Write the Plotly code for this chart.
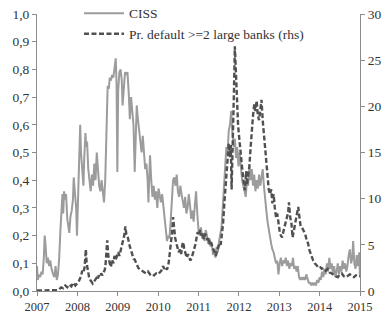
import plotly.graph_objects as go

ciss_x = [2007.00,2007.02,2007.05,2007.08,2007.11,2007.14,2007.17,2007.19,2007.21,2007.24,2007.27,2007.30,2007.33,2007.36,2007.40,2007.43,2007.46,2007.49,2007.52,2007.55,2007.58,2007.61,2007.63,2007.65,2007.67,2007.70,2007.72,2007.75,2007.78,2007.80,2007.83,2007.86,2007.89,2007.91,2007.93,2007.95,2007.97,2007.99,
2008.02,2008.05,2008.07,2008.09,2008.12,2008.15,2008.17,2008.20,2008.22,2008.24,2008.27,2008.30,2008.33,2008.36,2008.39,2008.42,2008.45,2008.48,2008.51,2008.54,2008.57,2008.60,2008.63,2008.66,2008.69,2008.71,2008.73,2008.75,2008.78,2008.80,2008.83,2008.86,2008.89,2008.92,2008.95,2008.97,2008.99,
2009.01,2009.04,2009.07,2009.10,2009.12,2009.15,2009.18,2009.21,2009.24,2009.27,2009.30,2009.33,2009.36,2009.39,2009.42,2009.45,2009.47,2009.50,2009.53,2009.56,2009.59,2009.62,2009.65,2009.68,2009.71,2009.74,2009.76,2009.78,2009.80,2009.83,2009.86,2009.89,2009.92,2009.95,2009.98,
2010.01,2010.04,2010.07,2010.10,2010.13,2010.16,2010.19,2010.22,2010.25,2010.28,2010.31,2010.34,2010.37,2010.40,2010.43,2010.46,2010.49,2010.52,2010.55,2010.58,2010.61,2010.64,2010.67,2010.70,2010.73,2010.76,2010.79,2010.82,2010.85,2010.88,2010.91,2010.94,2010.97,
2011.00,2011.03,2011.06,2011.09,2011.12,2011.15,2011.18,2011.21,2011.24,2011.27,2011.30,2011.33,2011.36,2011.39,2011.42,2011.45,2011.48,2011.51,2011.54,2011.57,2011.60,2011.63,2011.66,2011.69,2011.72,2011.75,2011.78,2011.81,2011.84,2011.87,2011.90,2011.93,2011.96,2011.99,
2012.02,2012.05,2012.08,2012.11,2012.14,2012.17,2012.20,2012.23,2012.26,2012.29,2012.32,2012.35,2012.38,2012.41,2012.44,2012.47,2012.50,2012.53,2012.56,2012.59,2012.62,2012.65,2012.68,2012.71,2012.74,2012.77,2012.80,2012.83,2012.86,2012.89,2012.92,2012.95,2012.98,
2013.01,2013.04,2013.07,2013.10,2013.13,2013.16,2013.19,2013.22,2013.25,2013.28,2013.31,2013.34,2013.37,2013.40,2013.43,2013.46,2013.49,2013.52,2013.55,2013.58,2013.61,2013.64,2013.67,2013.70,2013.73,2013.76,2013.79,2013.82,2013.85,2013.88,2013.91,2013.94,2013.97,
2014.00,2014.03,2014.06,2014.09,2014.12,2014.15,2014.18,2014.21,2014.24,2014.27,2014.30,2014.33,2014.36,2014.39,2014.42,2014.45,2014.48,2014.51,2014.54,2014.57,2014.60,2014.63,2014.66,2014.69,2014.72,2014.75,2014.78,2014.81,2014.83,2014.86,2014.89,2014.92,2014.95,2014.98,2015.00]

ciss_y = [0.09,0.04,0.06,0.05,0.07,0.06,0.12,0.20,0.17,0.10,0.12,0.09,0.11,0.08,0.06,0.05,0.09,0.04,0.06,0.12,0.22,0.33,0.35,0.28,0.36,0.33,0.35,0.26,0.22,0.21,0.27,0.29,0.33,0.41,0.37,0.32,0.30,0.20,
0.38,0.50,0.60,0.50,0.45,0.38,0.48,0.57,0.52,0.54,0.44,0.40,0.36,0.42,0.38,0.46,0.40,0.50,0.42,0.38,0.36,0.40,0.36,0.32,0.40,0.56,0.70,0.74,0.73,0.77,0.76,0.78,0.77,0.80,0.84,0.75,0.43,
0.72,0.79,0.80,0.76,0.67,0.75,0.79,0.78,0.79,0.72,0.62,0.70,0.66,0.60,0.43,0.60,0.67,0.62,0.58,0.55,0.50,0.56,0.48,0.44,0.46,0.40,0.32,0.43,0.49,0.40,0.34,0.38,0.33,0.36,0.30,
0.37,0.34,0.32,0.35,0.30,0.28,0.23,0.18,0.20,0.19,0.25,0.34,0.40,0.41,0.38,0.42,0.36,0.34,0.38,0.35,0.33,0.30,0.34,0.28,0.30,0.35,0.31,0.26,0.29,0.25,0.31,0.36,0.28,
0.22,0.20,0.23,0.19,0.21,0.18,0.22,0.20,0.17,0.19,0.16,0.17,0.13,0.15,0.12,0.16,0.14,0.18,0.20,0.23,0.30,0.38,0.45,0.52,0.50,0.58,0.60,0.65,0.57,0.52,0.55,0.48,0.52,0.45,
0.50,0.43,0.40,0.38,0.36,0.34,0.40,0.38,0.45,0.40,0.44,0.38,0.42,0.36,0.40,0.37,0.42,0.38,0.41,0.44,0.38,0.32,0.29,0.25,0.22,0.19,0.17,0.15,0.14,0.12,0.10,0.11,0.06,
0.10,0.12,0.09,0.11,0.10,0.12,0.09,0.11,0.08,0.10,0.09,0.12,0.08,0.09,0.07,0.09,0.05,0.04,0.05,0.04,0.05,0.04,0.06,0.04,0.03,0.03,0.02,0.03,0.02,0.03,0.02,0.04,0.03,
0.05,0.04,0.07,0.05,0.08,0.06,0.10,0.07,0.12,0.08,0.10,0.06,0.09,0.05,0.07,0.10,0.06,0.09,0.07,0.11,0.08,0.10,0.07,0.09,0.13,0.15,0.10,0.12,0.18,0.10,0.08,0.13,0.09,0.14,0.05]

pd_x = [2007.00,2007.10,2007.20,2007.30,2007.40,2007.50,2007.55,2007.60,2007.65,2007.70,2007.75,2007.80,2007.85,2007.90,2007.95,
2008.00,2008.03,2008.06,2008.09,2008.12,2008.15,2008.18,2008.20,2008.21,2008.23,2008.26,2008.29,2008.32,2008.35,2008.38,2008.41,2008.44,2008.47,2008.50,2008.53,2008.56,2008.59,2008.62,2008.65,2008.68,2008.70,2008.72,2008.74,2008.76,2008.78,2008.80,2008.83,2008.86,2008.89,2008.92,2008.95,2008.98,
2009.01,2009.04,2009.07,2009.10,2009.13,2009.16,2009.19,2009.21,2009.24,2009.27,2009.30,2009.33,2009.36,2009.39,2009.42,2009.45,2009.48,2009.51,2009.55,2009.60,2009.65,2009.70,2009.75,2009.80,2009.85,2009.90,2009.95,
2010.00,2010.04,2010.08,2010.12,2010.15,2010.18,2010.22,2010.26,2010.29,2010.32,2010.35,2010.37,2010.39,2010.42,2010.45,2010.48,2010.51,2010.54,2010.57,2010.60,2010.62,2010.65,2010.68,2010.71,2010.74,2010.77,2010.80,2010.83,2010.86,2010.89,2010.92,2010.95,2010.98,
2011.01,2011.04,2011.07,2011.10,2011.13,2011.16,2011.19,2011.22,2011.25,2011.28,2011.31,2011.34,2011.37,2011.40,2011.43,2011.46,2011.49,2011.52,2011.55,2011.58,2011.61,2011.64,2011.67,2011.70,2011.72,2011.75,2011.78,2011.80,2011.82,2011.84,2011.86,2011.88,2011.90,2011.92,2011.94,2011.96,2011.98,
2012.01,2012.04,2012.07,2012.10,2012.13,2012.15,2012.18,2012.20,2012.23,2012.26,2012.29,2012.32,2012.35,2012.38,2012.41,2012.44,2012.47,2012.50,2012.53,2012.56,2012.59,2012.62,2012.65,2012.68,2012.71,2012.74,2012.77,2012.80,2012.83,2012.86,2012.89,2012.92,2012.95,2012.98,
2013.01,2013.04,2013.07,2013.10,2013.13,2013.16,2013.19,2013.22,2013.24,2013.27,2013.30,2013.33,2013.36,2013.39,2013.42,2013.45,2013.47,2013.50,2013.53,2013.56,2013.60,2013.64,2013.68,2013.71,2013.75,2013.80,2013.84,2013.88,2013.92,2013.96,
2014.00,2014.05,2014.10,2014.15,2014.20,2014.25,2014.30,2014.35,2014.40,2014.45,2014.50,2014.55,2014.60,2014.65,2014.70,2014.75,2014.80,2014.85,2014.90,2014.95,2015.00]

pd_y = [0.05,0.05,0.1,0.05,0.1,0.1,0.2,0.4,0.3,0.6,0.4,0.7,0.5,0.9,0.6,
0.8,1.0,1.3,1.6,2.2,2.0,2.6,3.5,4.5,3.0,2.0,1.5,1.2,1.0,0.8,1.0,1.2,1.4,1.2,1.7,1.5,1.9,1.7,2.1,2.3,3.0,4.2,5.5,4.0,3.2,3.0,2.6,3.4,3.0,3.8,3.4,3.9,
4.2,3.8,4.4,5.0,5.5,6.0,7.0,6.2,6.0,5.2,4.8,4.4,4.0,3.5,3.4,3.0,2.8,2.5,2.3,2.2,2.0,1.9,2.1,1.8,1.9,1.7,1.9,
1.8,2.0,2.2,2.7,2.4,2.6,2.3,3.0,4.0,5.5,6.5,8.0,6.8,5.8,5.2,4.6,4.2,4.5,4.0,5.0,5.3,4.5,4.0,3.6,4.0,3.5,3.3,3.6,4.2,4.5,5.0,5.8,6.4,
6.0,6.6,6.0,6.3,5.6,6.2,6.0,5.5,5.8,5.0,5.3,4.8,4.5,4.2,3.8,4.3,4.8,5.2,5.0,6.2,7.4,9.5,11.5,13.5,15.0,16.0,14.5,15.8,11.0,14.0,18.0,22.0,26.5,24.0,21.5,19.0,18.0,
16.5,15.0,13.5,12.5,11.5,10.9,13.0,11.5,12.5,13.5,15.5,17.5,19.0,20.2,19.5,20.6,19.0,18.5,19.5,20.7,18.5,17.0,15.5,13.5,12.0,11.0,10.5,11.0,9.5,10.5,9.0,8.0,8.4,7.2,
6.5,6.0,5.8,6.4,6.9,7.2,8.0,8.5,9.6,8.0,7.4,5.8,6.5,7.2,8.0,8.5,9.1,8.0,7.0,6.9,6.5,6.2,5.5,5.2,4.4,3.7,3.3,3.0,2.8,2.6,
2.7,2.4,2.5,2.2,2.4,2.0,1.9,1.7,1.6,1.5,1.8,1.9,1.6,1.5,1.7,1.8,1.6,1.5,1.7,1.6,1.6]

years = list(range(2007, 2016))
left_ticks = [0.0, 0.1, 0.2, 0.3, 0.4, 0.5, 0.6, 0.7, 0.8, 0.9, 1.0]
right_ticks = [0, 5, 10, 15, 20, 25, 30]

FONT = "Liberation Serif, DejaVu Serif, serif"
AX = "#8c8c8c"
TXT = dict(family=FONT, size=13.5, color="#333333")

fig = go.Figure()
fig.add_trace(go.Scatter(x=ciss_x, y=ciss_y, mode="lines", name="CISS",
                         line=dict(color="#9c9c9c", width=2)))
fig.add_trace(go.Scatter(x=pd_x, y=pd_y, mode="lines", name="Pr. default >=2 large banks (rhs)",
                         yaxis="y2", line=dict(color="#505050", width=2.4, dash="5px,2.5px")))

fig.update_layout(
    width=385, height=313,
    margin=dict(l=37, r=25, t=14, b=22, autoexpand=False),
    paper_bgcolor="white", plot_bgcolor="white",
    separators=",.",
    font=TXT,
    showlegend=True,
    legend=dict(x=0.13, y=1.058, xanchor="left", yanchor="top",
                bgcolor="rgba(0,0,0,0)", font=TXT,
                tracegroupgap=0, itemwidth=40),
    xaxis=dict(range=[2007, 2015], tickvals=years, ticktext=[str(y) for y in years],
               showgrid=False, zeroline=False, showline=True, linecolor=AX, linewidth=1,
               ticks="outside", ticklen=4, tickcolor=AX,
               tickfont=dict(family=FONT, size=12.5, color="#333333")),
    yaxis=dict(range=[0, 1.0], tickvals=left_ticks, tickformat=".1f",
               showgrid=False, zeroline=False, showline=True, linecolor=AX, linewidth=1,
               ticks="outside", ticklen=4, tickcolor=AX, tickfont=TXT),
    yaxis2=dict(range=[0, 30], tickvals=right_ticks, overlaying="y", side="right",
                showgrid=False, zeroline=False, showline=True, linecolor=AX, linewidth=1,
                ticks="outside", ticklen=4, tickcolor=AX, tickfont=TXT),
)

fig.write_html("out.html", config={"displayModeBar": False},
               post_script="document.body.style.margin='0px';")
